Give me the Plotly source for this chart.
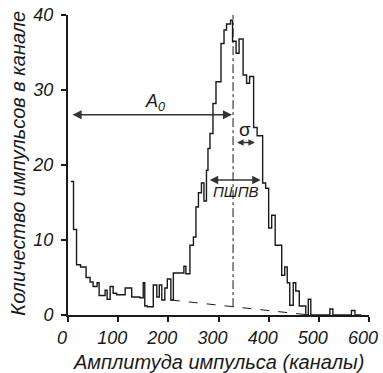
import plotly.graph_objects as go

# Histogram: left edge of each step (channel) and count
channel_edges = [6, 11, 17, 25, 36, 44, 50, 58, 62, 67, 74, 78, 84, 90, 97, 114, 127, 143,
                 150, 153, 158, 170, 177, 182, 187, 193, 198, 205, 210, 231, 235, 243, 250,
                 255, 260, 266, 271, 276, 279, 283, 289, 295, 305, 311, 316, 324, 328, 335,
                 341, 349, 356, 362, 370, 377, 388, 394, 400, 406, 413, 426, 432, 437, 442,
                 449, 454, 461, 474, 479, 484, 522, 528, 565, 572, 585]
counts = [17.8, 11.4, 6.7, 6.4, 5.0, 4.4, 3.8, 4.3, 2.6, 2.6, 3.3, 2.1, 3.8, 2.9, 2.7, 3.6,
          2.4, 2.3, 4.3, 1.2, 1.1, 4.0, 2.4, 4.0, 2.0, 3.6, 4.8, 2.0, 5.6, 6.5, 5.5, 9.3, 10.4,
          14.4, 16.3, 17.6, 15.2, 19.3, 22.2, 24.2, 28.2, 31.1, 36.2, 38.0, 38.8, 39.3, 36.5,
          34.9, 36.8, 32.0, 30.9, 31.8, 25.0, 23.9, 17.6, 16.9, 11.6, 13.3, 9.3, 5.3, 6.4,
          4.3, 1.3, 4.3, 3.2, 1.2, 0.0, 2.1, 0.0, 0.8, 0.0, 0.6, 0.0, 0.0]

# Background (dashed) line end points
background_x = [205, 475]
background_y = [2.0, 0.05]

peak_channel = 329
peak_top = 40
peak_bottom = 1.05

x_tickvals = [0, 100, 200, 300, 400, 500, 600]
y_tickvals = [0, 10, 20, 30, 40]

x_title = "Амплитуда импульса (каналы)"
y_title = "Количество импульсов в канале"

# annotation geometry (data coordinates)
a0_left, a0_right, a0_y = 6, 327, 26.7
sigma_left, sigma_right, sigma_y = 334, 372.5, 23.0
fwhm_left, fwhm_right, fwhm_y = 279.5, 384, 18.0

FONT = "Liberation Sans, Arial, sans-serif"
INK = "#1a1a1a"

fig = go.Figure()
fig.add_trace(go.Scatter(x=channel_edges, y=counts, mode="lines",
                         line=dict(shape="hv", color=INK, width=1.4),
                         hoverinfo="skip", showlegend=False))
fig.add_trace(go.Scatter(x=background_x, y=background_y, mode="lines",
                         line=dict(color=INK, width=1, dash="dash"),
                         hoverinfo="skip", showlegend=False))
fig.add_trace(go.Scatter(x=[peak_channel, peak_channel], y=[peak_bottom, peak_top], mode="lines",
                         line=dict(color=INK, width=1, dash="dashdot"),
                         hoverinfo="skip", showlegend=False))

def darrow(x0, x1, y, size):
    fig.add_annotation(x=x1, y=y, ax=x0, ay=y, xref="x", yref="y", axref="x", ayref="y",
                       text="", showarrow=True, arrowhead=2, startarrowhead=2,
                       arrowside="end+start", arrowsize=size, startarrowsize=size,
                       arrowwidth=1.3, arrowcolor="#333333")

darrow(a0_left, a0_right, a0_y, 1.4)
darrow(sigma_left, sigma_right, sigma_y, 1.0)
darrow(fwhm_left, fwhm_right, fwhm_y, 1.3)

fig.add_annotation(x=173, y=28.4, text="A<sub>0</sub>", showarrow=False,
                   font=dict(family=FONT, size=18, color=INK, style="italic"))
fig.add_annotation(x=352, y=24.8, text="σ", showarrow=False,
                   font=dict(family=FONT, size=19, color=INK))
fig.add_annotation(x=335, y=16.5, text="ПШПВ", showarrow=False,
                   font=dict(family=FONT, size=15, color=INK, style="italic"))

# axis titles as annotations for precise placement
fig.add_annotation(x=0.5, y=-0.157, xref="paper", yref="paper", text=x_title,
                   showarrow=False, xanchor="center", yanchor="middle",
                   font=dict(family=FONT, size=20, color=INK, style="italic"))
fig.add_annotation(x=-0.169, y=0.505, xref="paper", yref="paper", text=y_title,
                   showarrow=False, xanchor="center", yanchor="middle", textangle=-90,
                   font=dict(family=FONT, size=20, color=INK, style="italic"))

axis_common = dict(showline=True, linewidth=2, linecolor=INK, ticks="outside",
                   ticklen=5, tickwidth=2, tickcolor=INK, showgrid=False, zeroline=False,
                   automargin=False, ticklabeloverflow="allow",
                   tickfont=dict(family=FONT, size=18, color=INK, style="italic"))

fig.update_xaxes(range=[0, 600], tickvals=x_tickvals, ticklabelshift=-6, **axis_common)
fig.update_yaxes(range=[0, 40], tickvals=y_tickvals, ticklabelstandoff=4, **axis_common)

fig.update_layout(width=383, height=373, margin=dict(l=68, r=14, t=15, b=58),
                  paper_bgcolor="white", plot_bgcolor="white", showlegend=False)

# remove the page's default 8 px body margin so the figure fills the window exactly
fig.write_html("out.html", config={"displayModeBar": False},
               post_script="document.body.style.margin='0';")
